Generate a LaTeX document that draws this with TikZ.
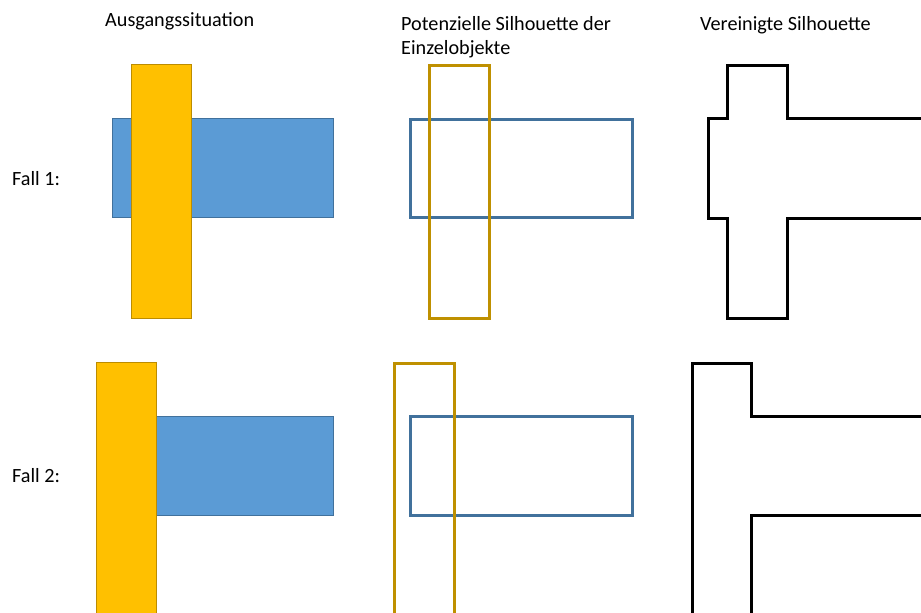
\documentclass[tikz,border=0pt]{standalone}
\usepackage{fontspec}
\setmainfont{Carlito}
\definecolor{boxblue}{HTML}{5B9BD5}
\definecolor{boxblueline}{HTML}{41719C}
\definecolor{boxgold}{HTML}{FFC000}
\definecolor{boxgoldline}{HTML}{BC8C00}
\definecolor{outlinegold}{HTML}{BF9000}
\tikzset{
  lbl/.style={anchor=base west, inner sep=0pt, font=\fontsize{20.2}{24}\selectfont, align=left},
  bluefill/.style={fill=boxblue, draw=boxblueline, line width=0.75pt},
  goldfill/.style={fill=boxgold, draw=boxgoldline, line width=0.75pt},
  blueline/.style={draw=boxblueline, line width=3pt},
  goldline/.style={draw=outlinegold, line width=3pt},
  silhouette/.style={draw=black, line width=3pt, line join=miter}
}
\begin{document}
\begin{tikzpicture}[x=1pt, y=-1pt]
\useasboundingbox (0,0) rectangle (921,613);
\clip (0,0) rectangle (921,613);
\fill[white] (0,0) rectangle (921,613);

% column and row headings
\node[lbl] (t1) at (105,26) {Ausgangssituation};
\node[lbl] (t2) at (401,54) {Potenzielle Silhouette der\\Einzelobjekte};
\node[lbl] (t3) at (700,30) {Vereinigte Silhouette};
\node[lbl] (f1) at (12,185) {Fall 1:};
\node[lbl] (f2) at (12,482) {Fall 2:};

% Fall 1: starting situation
\draw[bluefill] (112,118) rectangle (333,217);
\draw[goldfill] (131,64) rectangle (191,318);

% Fall 1: individual outlines
\draw[blueline] (410,119) rectangle (632,217);
\draw[goldline] (429,65) rectangle (489,318);

% Fall 1: merged outline
\draw[silhouette] (925,118) -- (787,118) -- (787,65) -- (727,65) -- (727,118)
  -- (708,118) -- (708,218) -- (727,218) -- (727,318) -- (787,318)
  -- (787,218) -- (925,218);

% Fall 2: starting situation
\draw[bluefill] (112,416) rectangle (333,515);
\draw[goldfill] (96,362) rectangle (156,620);

% Fall 2: individual outlines
\draw[blueline] (410,416) rectangle (632,515);
\draw[goldline] (394,363) rectangle (454,620);

% Fall 2: merged outline
\draw[silhouette] (692,620) -- (692,363) -- (751,363) -- (751,416) -- (925,416);
\draw[silhouette] (925,515) -- (751,515) -- (751,620);
\end{tikzpicture}
\end{document}
